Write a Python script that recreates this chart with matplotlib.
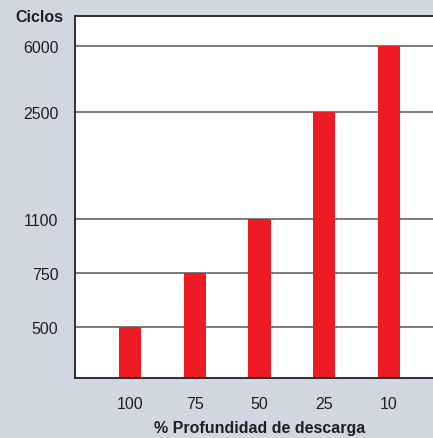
import matplotlib
matplotlib.use("Agg")
import matplotlib.pyplot as plt
import numpy as np

plt.rcParams['font.family'] = ['Liberation Sans', 'DejaVu Sans']

categories = ["100", "75", "50", "25", "10"]
ciclos = [500, 750, 1100, 2500, 6000]
ytick_values = [500, 750, 1100, 2500, 6000]
xlabel = "% Profundidad de descarga"
ylabel = "Ciclos"

BG = "#d0d7e1"
RED = "#ed1c24"

# non-linear axis: knots for the custom scale
knots_v = np.array([0, 500, 750, 1100, 2500, 6000, 8000], dtype=float)
knots_p = np.array([0, 51, 105, 159, 266, 332, 362], dtype=float)

def fwd(v):
    return np.interp(v, knots_v, knots_p)

def inv(p):
    return np.interp(p, knots_p, knots_v)

W, H = 433, 439
fig = plt.figure(figsize=(W / 100, H / 100), dpi=100, facecolor=BG)
ax = fig.add_axes([75 / W, 1 - 379 / H, (433 - 75) / W, (379 - 17) / H])
ax.set_facecolor("white")
ax.set_yscale("function", functions=(fwd, inv))

x = np.arange(len(categories))
for v in ytick_values:
    ax.axhline(v, color="#555555", lw=1.1, zorder=1)
ax.bar(x, ciclos, width=0.34, color=RED, zorder=2)

ax.set_xlim(-0.85, 4.68)
ax.set_ylim(0, 8000)
ax.set_yticks(ytick_values)
ax.set_yticklabels([str(v) for v in ytick_values])
ax.set_xticks(x)
ax.set_xticklabels(categories)
ax.tick_params(axis="both", length=0, labelsize=11.5, colors="#231f20")
ax.tick_params(axis="y", pad=12)
ax.tick_params(axis="x", pad=13)
ax.minorticks_off()

for s in ["left", "top", "bottom"]:
    ax.spines[s].set_color("#231f20")
    ax.spines[s].set_linewidth(1.3)
ax.spines["right"].set_visible(False)

fig.text(63 / W, 1 - 18 / H, ylabel, ha="right", va="center",
         fontsize=11.5, fontweight="bold", color="#231f20")
fig.text(260 / W, 1 - 429 / H, xlabel, ha="center", va="center",
         fontsize=11.5, fontweight="bold", color="#231f20")

fig.savefig("out.png", dpi=100, facecolor=BG)
